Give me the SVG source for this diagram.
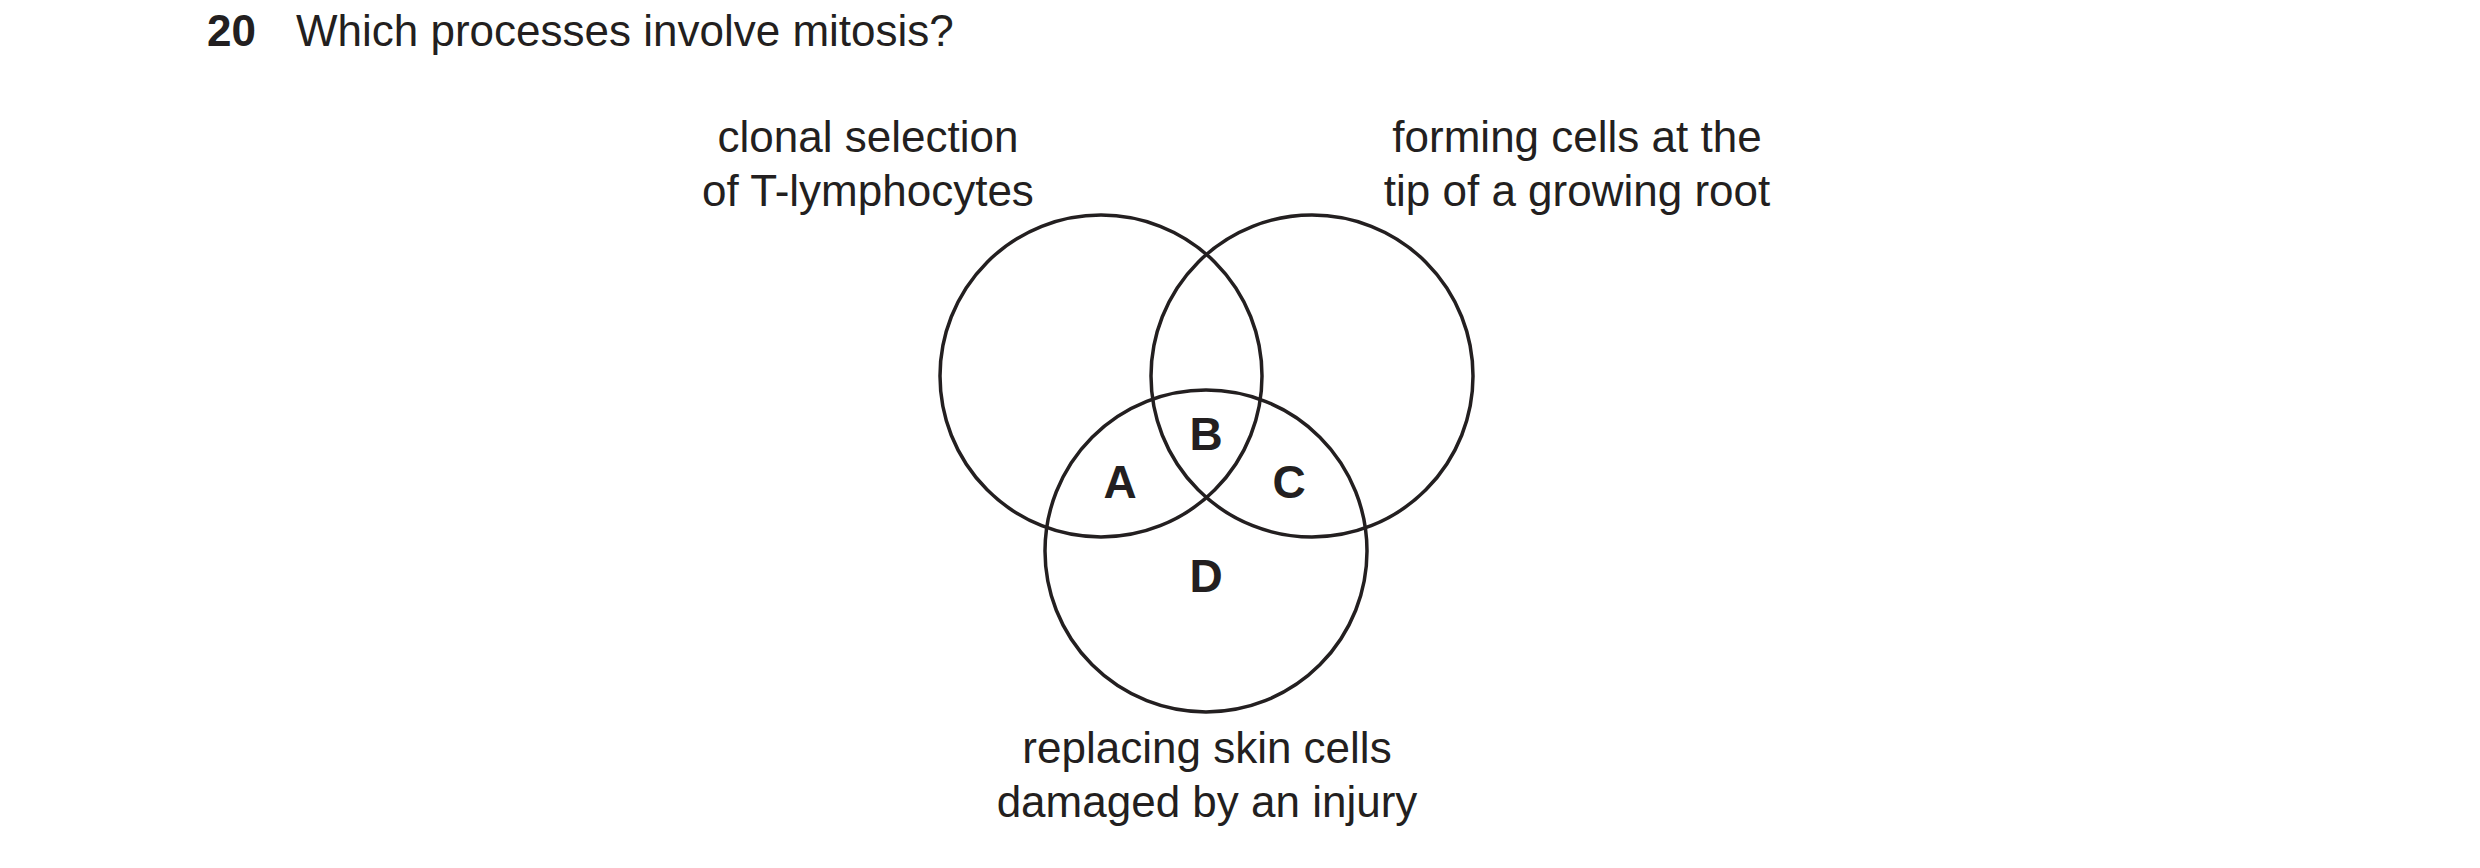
<svg xmlns="http://www.w3.org/2000/svg" width="2480" height="868" viewBox="0 0 2480 868">
<style>
text{font-family:"Liberation Sans",Arial,sans-serif;fill:#231f20;font-size:44px}
.c{text-anchor:middle}
.b{font-weight:bold}
.r{font-weight:bold;font-size:46px;text-anchor:middle}
circle{fill:none;stroke:#231f20;stroke-width:3.5}
</style>
<rect width="2480" height="868" fill="#fff"/>
<text x="207" y="46" class="b">20</text>
<text x="296" y="46">Which processes involve mitosis?</text>
<g id="tcell"><circle cx="1101" cy="376" r="161"/>
<text x="868" y="152" class="c">clonal selection</text><text x="868" y="206" class="c">of T-lymphocytes</text></g>
<g id="root"><circle cx="1312" cy="376" r="161"/>
<text x="1577" y="152" class="c">forming cells at the</text><text x="1577" y="206" class="c">tip of a growing root</text></g>
<g id="skin"><circle cx="1206" cy="551" r="161"/>
<text x="1207" y="763" class="c">replacing skin cells</text><text x="1207" y="817" class="c">damaged by an injury</text></g>
<g id="regions">
<text x="1120" y="498" class="r">A</text>
<text x="1206" y="450" class="r">B</text>
<text x="1289" y="498" class="r">C</text>
<text x="1206" y="592" class="r">D</text>
</g>
</svg>
